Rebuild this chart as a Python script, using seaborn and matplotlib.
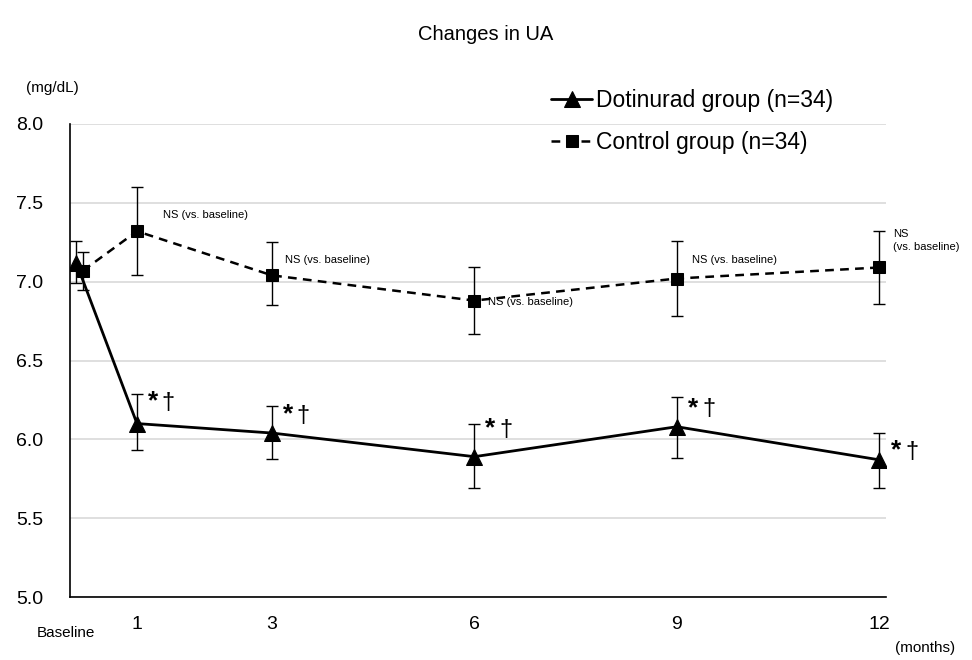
import numpy as np
import pandas as pd
import matplotlib
matplotlib.use("Agg")
import matplotlib.pyplot as plt
import seaborn as sns

# ---- data ----
months = [0, 1, 3, 6, 9, 12]
xtick_labels = ["Baseline", "1", "3", "6", "9", "12"]

dot_mean = [7.12, 6.10, 6.04, 5.89, 6.08, 5.87]
dot_upper = [7.26, 6.29, 6.21, 6.10, 6.27, 6.04]
dot_lower = [6.99, 5.93, 5.875, 5.69, 5.88, 5.69]

ctl_mean = [7.07, 7.32, 7.04, 6.88, 7.02, 7.09]
ctl_upper = [7.19, 7.60, 7.25, 7.09, 7.26, 7.32]
ctl_lower = [6.95, 7.04, 6.85, 6.67, 6.78, 6.86]

dot_label = "Dotinurad group (n=34)"
ctl_label = "Control group (n=34)"
ns_label = "NS (vs. baseline)"
sig_star = "*"
sig_dagger = "\u2020"

# ---- style ----
sns.set_style("white")
plt.rcParams["font.family"] = ["Liberation Sans", "DejaVu Sans"]
plt.rcParams["text.color"] = "black"
plt.rcParams["xtick.color"] = "black"
plt.rcParams["ytick.color"] = "black"
plt.rcParams["axes.labelcolor"] = "black"

fig = plt.figure(figsize=(9.72, 6.6), dpi=100)
ax = fig.add_axes([69.5 / 972, 1 - 597 / 660, (886 - 69.5) / 972, (597 - 124) / 660])

# small dodge of the baseline points (as drawn in the reference)
dot_x = np.array(months, dtype=float); dot_x[0] += 0.10
ctl_x = np.array(months, dtype=float); ctl_x[0] += 0.20

df_dot = pd.DataFrame({"month": dot_x, "UA": dot_mean})
df_ctl = pd.DataFrame({"month": ctl_x, "UA": ctl_mean})

# error bars
ax.errorbar(dot_x, dot_mean,
            yerr=[np.array(dot_mean) - np.array(dot_lower), np.array(dot_upper) - np.array(dot_mean)],
            fmt="none", ecolor="black", elinewidth=1.0, capsize=4, capthick=1.0, zorder=2)
ax.errorbar(ctl_x, ctl_mean,
            yerr=[np.array(ctl_mean) - np.array(ctl_lower), np.array(ctl_upper) - np.array(ctl_mean)],
            fmt="none", ecolor="black", elinewidth=1.0, capsize=4, capthick=1.0, zorder=2)

sns.lineplot(data=df_ctl, x="month", y="UA", ax=ax, color="black", marker="s",
             markersize=9, linewidth=1.8, linestyle=(0, (3.5, 2.5)), sort=False,
             estimator=None, label=ctl_label, zorder=3, markeredgecolor="black")
sns.lineplot(data=df_dot, x="month", y="UA", ax=ax, color="black", marker="^",
             markersize=11, linewidth=2.0, linestyle="-", sort=False,
             estimator=None, label=dot_label, zorder=4, markeredgecolor="black")

ax.set_xlim(0, 12.1)
ax.set_ylim(5.0, 8.0)
ax.set_yticks(np.arange(5.0, 8.01, 0.5))
ax.set_yticklabels([f"{v:.1f}" for v in np.arange(5.0, 8.01, 0.5)], fontsize=14)
ax.set_xticks(months[1:])
ax.set_xticklabels(xtick_labels[1:], fontsize=14)
ax.tick_params(axis="x", length=0, pad=14)
ax.tick_params(axis="y", length=0, pad=19)
ax.set_xlabel("")
ax.set_ylabel("")
ax.yaxis.grid(True, color="#d9d9d9", linewidth=1.2)
ax.set_axisbelow(True)
for s in ["top", "right"]:
    ax.spines[s].set_visible(False)
for s in ["left", "bottom"]:
    ax.spines[s].set_color("black")
    ax.spines[s].set_linewidth(1.2)

# Baseline tick label and unit labels
ax.text(months[0] - 0.05, 4.77, xtick_labels[0], ha="center", va="center", fontsize=11,
        transform=ax.transData, clip_on=False)
fig.text(925 / 972, 1 - 648 / 660, "(months)", ha="center", va="center", fontsize=11)
fig.text(52 / 972, 1 - 88 / 660, "(mg/dL)", ha="center", va="center", fontsize=11)
fig.text(486 / 972, 1 - 35 / 660, "Changes in UA", ha="center", va="center", fontsize=14.5)

# NS annotations (control)
ns_pos = [(1.385, 7.42), (3.19, 7.14), (6.2, 6.87), (9.22, 7.14)]
for (x, y) in ns_pos:
    ax.text(x, y, ns_label, ha="left", va="center", fontsize=8, clip_on=False)
ax.text(12.2, 7.26, "NS\n(vs. baseline)", ha="left", va="center", fontsize=8,
        linespacing=1.3, clip_on=False)

# significance marks (dotinurad)
sig_pos = [(1.16, 6.23), (3.16, 6.15), (6.16, 6.06), (9.17, 6.19), (12.18, 5.92)]
for (x, y) in sig_pos:
    ax.annotate(sig_star, (x, y), xytext=(0, 1), textcoords="offset points",
                ha="left", va="center", fontsize=19,
                fontweight="bold", annotation_clip=False)
    ax.annotate(sig_dagger, (x, y), xytext=(10, 0), textcoords="offset points",
                ha="left", va="center", fontsize=17, annotation_clip=False)

# legend
h, l = ax.get_legend_handles_labels()
order = [l.index(dot_label), l.index(ctl_label)]
leg = fig.legend([h[i] for i in order], [l[i] for i in order],
                 loc="center left", bbox_to_anchor=(551 / 972, 1 - 121.5 / 660),
                 frameon=False, fontsize=16.5, handlelength=1.8, handletextpad=0.15,
                 labelspacing=0.85, borderpad=0, borderaxespad=0)
if ax.get_legend() is not None:
    ax.get_legend().remove()

fig.savefig("out.png", dpi=100)
